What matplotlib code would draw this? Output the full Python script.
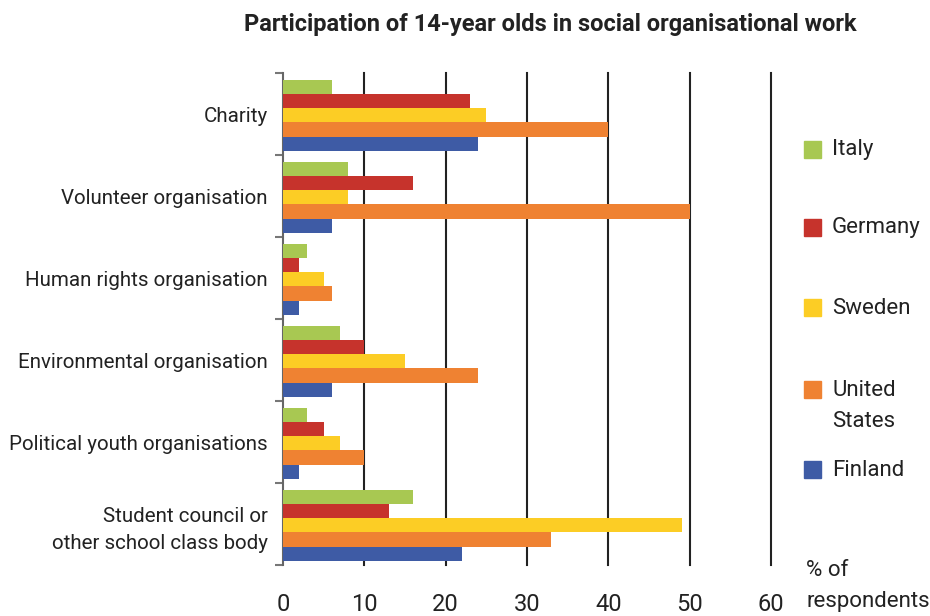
import numpy as np
import matplotlib.pyplot as plt
from matplotlib.patches import Rectangle

plt.rcParams['font.family'] = ['Roboto', 'DejaVu Sans']

categories = ["Charity", "Volunteer organisation", "Human rights organisation",
              "Environmental organisation", "Political youth organisations",
              "Student council or\nother school class body"]
countries = ["Italy", "Germany", "Sweden", "United\nStates", "Finland"]
colors = ["#A8C852", "#C6332C", "#FCCD25", "#EF8232", "#3E5BA5"]

italy = [6, 8, 3, 7, 3, 16]
germany = [23, 16, 2, 10, 5, 13]
sweden = [25, 8, 5, 15, 7, 49]
united_states = [40, 50, 6, 24, 10, 33]
finland = [24, 6, 2, 6, 2, 22]
series = [italy, germany, sweden, united_states, finland]

xticks = [0, 10, 20, 30, 40, 50, 60]

W, H = 930, 616
fig = plt.figure(figsize=(W / 100, H / 100), dpi=100)
ax = fig.add_axes([283 / W, 1 - 565 / H, (771 - 283) / W, (565 - 73) / H])

bar_h = 0.173
y = np.arange(len(categories))
for j, vals in enumerate(series):
    ax.barh(y - 0.33 + j * bar_h, vals, height=bar_h, color=colors[j], zorder=3)

ax.set_xlim(0, 60)
ax.set_ylim(len(categories) - 0.5, -0.5)

# gridlines
for v in xticks[1:]:
    ax.axvline(v, color="#222222", lw=1.5, zorder=1, clip_on=False)

ax.set_yticks(y)
ax.set_yticklabels(categories, fontsize=14.8, color="#222222", ha="right",
                   multialignment="right", linespacing=1.55)
ax.tick_params(axis="y", length=0, pad=11)
ax.set_yticks(np.arange(-0.5, len(categories)), minor=True)
ax.tick_params(axis="y", which="minor", length=6, width=1.5, color="#777777")

ax.set_xticks(xticks)
ax.set_xticklabels([str(v) for v in xticks], fontsize=17, color="#222222")
ax.tick_params(axis="x", length=0, pad=20)

for s in ["top", "right", "bottom"]:
    ax.spines[s].set_visible(False)
ax.spines["left"].set_color("#666666")
ax.spines["left"].set_linewidth(1.5)

fig.text(550 / W, 1 - 25 / H, "Participation of 14-year olds in social organisational work",
         ha="center", va="center", fontsize=17, fontweight="bold", color="#222222")

# legend
leg_y = [150, 228, 308, 390, 470]
for j, name in enumerate(countries):
    yy = leg_y[j]
    fig.patches.append(Rectangle((804 / W, 1 - (yy + 8) / H), 17 / W, 17 / H,
                                 transform=fig.transFigure, color=colors[j], figure=fig))
    if "\n" in name:
        fig.text(832 / W, 1 - (yy - 10) / H, name, ha="left", va="top",
                 fontsize=16, color="#222222", linespacing=1.6)
    else:
        fig.text(832 / W, 1 - yy / H, name, ha="left", va="center",
                 fontsize=16, color="#222222")

fig.text(806 / W, 1 - 570 / H, "% of", ha="left", va="center", fontsize=16, color="#222222")
fig.text(806 / W, 1 - 601 / H, "respondents", ha="left", va="center", fontsize=16, color="#222222")

fig.savefig("out.png", dpi=100)
